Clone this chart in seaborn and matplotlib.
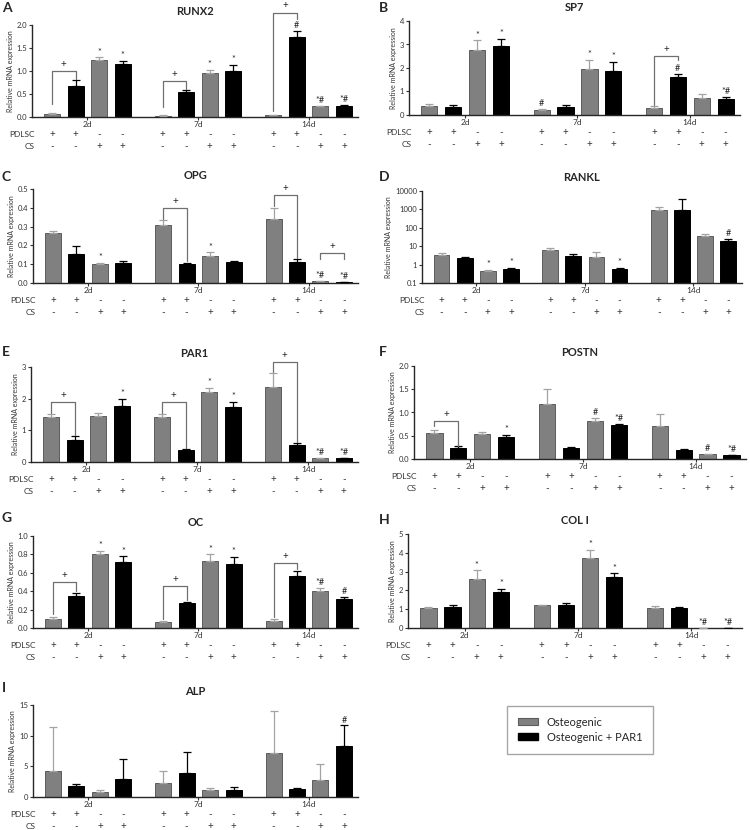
import numpy as np
import pandas as pd
import matplotlib
matplotlib.use('Agg')
import matplotlib.pyplot as plt
from matplotlib.patches import Patch
import seaborn as sns

# ---- data ----
groups = ['Osteogenic', 'Osteogenic + PAR1']
days = ['2d', '7d', '14d']
bar_group = ['Osteogenic', 'Osteogenic + PAR1'] * 6
pdlsc_signs = ['+', '+', '-', '-'] * 3
cs_signs = ['-', '-', '+', '+'] * 3

runx2_mean = [0.07, 0.68, 1.23, 1.16, 0.03, 0.55, 0.95, 1.00, 0.04, 1.73, 0.23, 0.23]
runx2_err = [0.01, 0.13, 0.07, 0.06, 0.005, 0.03, 0.08, 0.14, 0.01, 0.15, 0.01, 0.04]
runx2_marks = ['', '', '*', '*', '', '', '*', '*', '', '#', '*#', '*#']
runx2_brackets = [(0, 1, 1.00, 0.29, 0.83), (4, 5, 0.78, 0.22, 0.60), (8, 9, 2.27, 0.12, 2.12)]

sp7_mean = [0.40, 0.33, 2.75, 2.92, 0.20, 0.34, 1.97, 1.87, 0.31, 1.63, 0.74, 0.68]
sp7_err = [0.05, 0.10, 0.43, 0.33, 0.05, 0.10, 0.38, 0.40, 0.08, 0.13, 0.17, 0.09]
sp7_marks = ['', '', '*', '*', '#', '', '*', '*', '', '#', '', '*#']
sp7_brackets = [(8, 9, 2.50, 0.42, 2.35)]

opg_mean = [0.265, 0.155, 0.100, 0.105, 0.310, 0.100, 0.145, 0.112, 0.340, 0.112, 0.008, 0.005]
opg_err = [0.010, 0.040, 0.008, 0.010, 0.025, 0.008, 0.018, 0.007, 0.060, 0.018, 0.002, 0.002]
opg_marks = ['', '', '*', '', '', '', '*', '', '', '', '*#', '*#']
opg_brackets = [(4, 5, 0.40, 0.34, 0.115), (8, 9, 0.47, 0.41, 0.135), (10, 11, 0.16, 0.125, 0.125)]

rankl_mean = [3.4, 2.4, 0.47, 0.56, 6.6, 3.0, 2.5, 0.60, 950, 980, 36, 20]
rankl_err = [0.7, 0.3, 0.06, 0.10, 1.5, 0.8, 2.4, 0.09, 390, 2800, 11, 5]
rankl_marks = ['', '', '*', '*', '', '', '', '*', '', '', '', '#']
rankl_brackets = []

par1_mean = [1.43, 0.71, 1.46, 1.76, 1.41, 0.37, 2.20, 1.75, 2.36, 0.54, 0.13, 0.13]
par1_err = [0.07, 0.12, 0.09, 0.23, 0.09, 0.04, 0.14, 0.16, 0.44, 0.07, 0.01, 0.01]
par1_marks = ['', '', '', '*', '', '', '*', '*', '', '', '*#', '*#']
par1_brackets = [(0, 1, 1.89, 1.55, 0.86), (4, 5, 1.89, 1.55, 0.43), (8, 9, 3.15, 2.85, 0.63)]

postn_mean = [0.55, 0.23, 0.54, 0.47, 1.18, 0.24, 0.82, 0.74, 0.70, 0.19, 0.10, 0.08]
postn_err = [0.07, 0.04, 0.03, 0.05, 0.32, 0.02, 0.07, 0.01, 0.27, 0.03, 0.005, 0.005]
postn_marks = ['', '', '', '*', '', '', '#', '*#', '', '', '#', '*#']
postn_brackets = [(0, 1, 0.82, 0.70, 0.29)]

oc_mean = [0.10, 0.35, 0.80, 0.72, 0.07, 0.27, 0.73, 0.70, 0.076, 0.56, 0.40, 0.31]
oc_err = [0.02, 0.03, 0.04, 0.06, 0.005, 0.015, 0.07, 0.075, 0.018, 0.06, 0.04, 0.03]
oc_marks = ['', '', '*', '*', '', '', '*', '*', '', '', '*#', '#']
oc_brackets = [(0, 1, 0.50, 0.15, 0.40), (4, 5, 0.46, 0.10, 0.30), (8, 9, 0.71, 0.12, 0.64)]

col1_mean = [1.07, 1.10, 2.62, 1.93, 1.21, 1.23, 3.71, 2.70, 1.05, 1.05, 0.0, 0.0]
col1_err = [0.05, 0.15, 0.45, 0.16, 0.02, 0.11, 0.43, 0.21, 0.11, 0.05, 0.0, 0.0]
col1_marks = ['', '', '*', '*', '', '', '*', '*', '', '', '*#', '*#']
col1_brackets = []

alp_mean = [4.25, 1.75, 0.76, 3.0, 2.35, 3.93, 1.10, 1.20, 7.2, 1.30, 2.73, 8.3]
alp_err = [7.1, 0.45, 0.44, 3.17, 1.95, 3.37, 0.35, 0.40, 6.9, 0.15, 2.62, 3.4]
alp_marks = [''] * 11 + ['#']
alp_brackets = []

# ---- layout / style ----
GRAY = '#808080'
GRAY_EDGE = '#5c5c5c'
palette = {'Osteogenic': GRAY, 'Osteogenic + PAR1': 'black'}
W, H = 750, 830

positions = np.array([d * 4.7 + i for d in range(3) for i in range(4)])
day_centers = [d * 4.7 + 1.5 for d in range(3)]

panels = [
    dict(letter='A', title='RUNX2', mean=runx2_mean, err=runx2_err, marks=runx2_marks,
         brackets=runx2_brackets, ylim=(0, 2), yticks=[0, 0.5, 1.0, 1.5, 2.0], fmt='{:.1f}',
         box=(32, 25, 358, 117), lpos=(2, 8)),
    dict(letter='B', title='SP7', mean=sp7_mean, err=sp7_err, marks=sp7_marks,
         brackets=sp7_brackets, ylim=(0, 4), yticks=[0, 1, 2, 3, 4], fmt='{:.0f}',
         box=(409, 21, 740, 115), lpos=(379, 8)),
    dict(letter='C', title='OPG', mean=opg_mean, err=opg_err, marks=opg_marks,
         brackets=opg_brackets, ylim=(0, 0.5), yticks=[0, 0.1, 0.2, 0.3, 0.4, 0.5], fmt='{:.1f}',
         box=(33, 189, 358, 283), lpos=(2, 177)),
    dict(letter='D', title='RANKL', mean=rankl_mean, err=rankl_err, marks=rankl_marks,
         brackets=rankl_brackets, ylim=(0.1, 10000), yticks=[0.1, 1, 10, 100, 1000, 10000],
         fmt='{:g}', log=True, box=(422, 191, 742, 283), lpos=(379, 177)),
    dict(letter='E', title='PAR1', mean=par1_mean, err=par1_err, marks=par1_marks,
         brackets=par1_brackets, ylim=(0, 3), yticks=[0, 1, 2, 3], fmt='{:.0f}',
         box=(31, 367, 358, 462), lpos=(2, 352)),
    dict(letter='F', title='POSTN', mean=postn_mean, err=postn_err, marks=postn_marks,
         brackets=postn_brackets, ylim=(0, 2), yticks=[0, 0.5, 1.0, 1.5, 2.0], fmt='{:.1f}',
         box=(414, 366, 746, 459), lpos=(379, 352)),
    dict(letter='G', title='OC', mean=oc_mean, err=oc_err, marks=oc_marks,
         brackets=oc_brackets, ylim=(0, 1), yticks=[0, 0.2, 0.4, 0.6, 0.8, 1.0], fmt='{:.1f}',
         box=(33, 536, 358, 628), lpos=(2, 518)),
    dict(letter='H', title='COL I', mean=col1_mean, err=col1_err, marks=col1_marks,
         brackets=col1_brackets, ylim=(0, 5), yticks=[0, 1, 2, 3, 4, 5], fmt='{:.0f}',
         box=(408, 534, 742, 628), lpos=(379, 520)),
    dict(letter='I', title='ALP', mean=alp_mean, err=alp_err, marks=alp_marks,
         brackets=alp_brackets, ylim=(0, 15), yticks=[0, 5, 10, 15], fmt='{:.0f}',
         box=(33, 705, 358, 797), lpos=(2, 688)),
]


def draw_panel(fig, p):
    l, t, r, b = p['box']
    ax = fig.add_axes([l / W, 1 - b / H, (r - l) / W, (b - t) / H])
    mean = np.array(p['mean'], dtype=float)
    err = np.array(p['err'], dtype=float)
    df = pd.DataFrame({'pos': positions, 'value': mean, 'group': bar_group})
    sns.barplot(data=df, x='pos', y='value', hue='group', palette=palette,
                native_scale=True, dodge=False, width=0.68, errorbar=None,
                legend=False, ax=ax, linewidth=0.7)
    for patch in ax.patches:
        dark = patch.get_facecolor()[0] < 0.2
        patch.set_edgecolor('black' if dark else GRAY_EDGE)
    if p.get('log'):
        ax.set_yscale('log', nonpositive='clip')

    # upper error bars only
    gray_idx = np.arange(0, 12, 2)
    black_idx = np.arange(1, 12, 2)
    for idx, color in ((gray_idx, '#a3a3a3'), (black_idx, 'black')):
        ax.errorbar(positions[idx], mean[idx], yerr=[np.zeros(len(idx)), err[idx]],
                    fmt='none', ecolor=color, elinewidth=0.9, capsize=2.8,
                    capthick=0.9, zorder=3)

    # significance marks
    for x, m, e, s in zip(positions, mean, err, p['marks']):
        if s:
            ax.annotate(s, (x, max(m + e, p['ylim'][0])), xytext=(0, 0.5),
                        textcoords='offset points', ha='center', va='bottom',
                        fontsize=6.5, annotation_clip=False)

    # brackets
    for i, j, top, yi, yj in p['brackets']:
        xi, xj = positions[i], positions[j]
        ax.plot([xi, xi, xj, xj], [yi, top, top, yj], color='#707070', lw=0.9,
                clip_on=False, zorder=4)
        ax.annotate('+', ((xi + xj) / 2, top), xytext=(0, 1.5),
                    textcoords='offset points', ha='center', va='bottom',
                    fontsize=7, annotation_clip=False)

    ax.set_xlim(-0.85, 13.0)
    ax.set_ylim(p['ylim'])
    ax.set_yticks(p['yticks'])
    ax.set_yticklabels([p['fmt'].format(v) for v in p['yticks']])
    ax.minorticks_off()
    ax.set_xticks(day_centers)
    ax.set_xticklabels(days)
    ax.set_xlabel('')
    ax.set_ylabel('Relative mRNA expression', fontsize=5, labelpad=2, color='#333333')
    sns.despine(ax=ax)
    for side in ('left', 'bottom'):
        ax.spines[side].set_linewidth(1.0)
    ax.tick_params(axis='x', length=2, width=0.8, pad=1, labelsize=6, colors='#333333')
    ax.tick_params(axis='y', length=2.5, width=0.8, pad=1, labelsize=5.5, colors='#333333')

    # treatment rows
    for name, signs, off in (('PDLSC', pdlsc_signs, -12.5), ('CS', cs_signs, -21)):
        ax.annotate(name, (-0.75, 0), xycoords=('data', 'axes fraction'), xytext=(0, off),
                    textcoords='offset points', ha='right', va='center', fontsize=6,
                    color='#333333', annotation_clip=False)
        for x, s in zip(positions, signs):
            ax.annotate(s, (x, 0), xycoords=('data', 'axes fraction'), xytext=(0, off),
                        textcoords='offset points', ha='center', va='center',
                        fontsize=7, color='#333333', annotation_clip=False)

    ax.set_title(p['title'], fontsize=8, fontweight='bold', pad=7)
    lx, ly = p['lpos']
    fig.text(lx / W, 1 - ly / H, p['letter'], fontsize=10, fontweight='bold',
             ha='left', va='center')
    return ax


def main():
    sns.set_style('ticks')
    plt.rcParams['font.family'] = ['Lato', 'DejaVu Sans']
    fig = plt.figure(figsize=(W / 100, H / 100), dpi=100)

    for p in panels:
        draw_panel(fig, p)

    handles = [Patch(facecolor=GRAY, edgecolor=GRAY_EDGE, linewidth=0.8),
               Patch(facecolor='black', edgecolor='black')]
    fig.legend(handles=handles, labels=groups, loc='upper left',
               bbox_to_anchor=(501 / W, 1 - 700 / H), frameon=True, fancybox=False,
               edgecolor='#909090', fontsize=8, handlelength=1.8, handleheight=0.6,
               borderpad=1.0, labelspacing=0.35, handletextpad=0.8)

    fig.savefig('out.png', dpi=100, facecolor='white')


if __name__ == '__main__':
    main()
